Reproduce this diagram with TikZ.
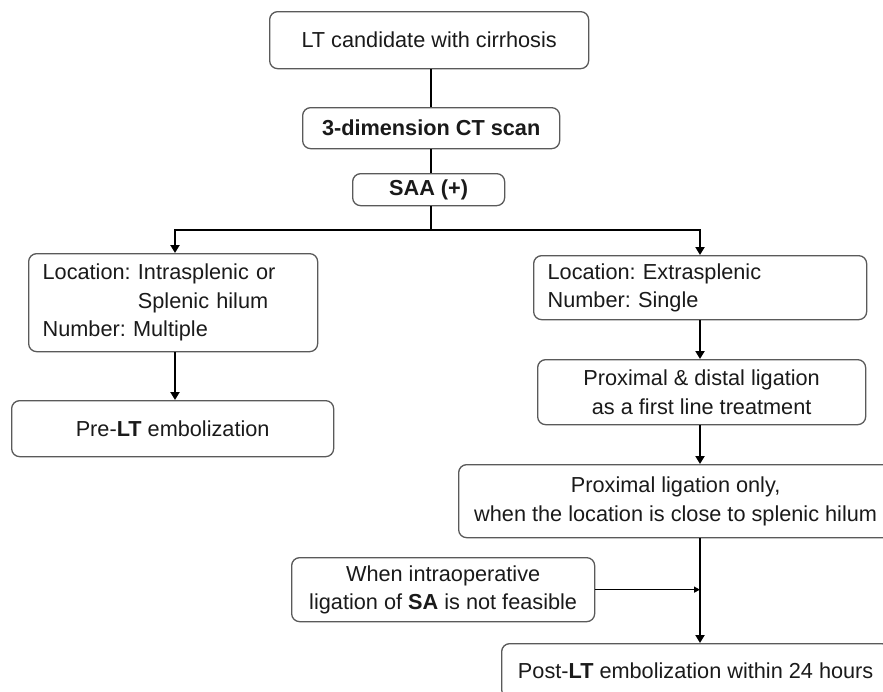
\documentclass[tikz,border=0pt]{standalone}
\usepackage{fontspec}
\setmainfont{Liberation Sans}
\usetikzlibrary{arrows.meta}
\definecolor{boxline}{HTML}{5A5A5A}
\definecolor{txt}{HTML}{1A1A1A}
\frenchspacing
\begin{document}
\begin{tikzpicture}[x=1pt,y=-1pt,
 box/.style={draw=boxline, line width=1.3pt, rounded corners=8pt, anchor=north west, inner sep=0pt, align=center, text=txt, font=\fontsize{21.7}{28.5}\selectfont},
 conn/.style={line width=2.9pt, black},
 arr/.style={conn, -{Triangle[length=8pt,width=9pt]}},
 thinarr/.style={line width=1.4pt, black, -{Triangle[length=6pt,width=6pt]}}]
\useasboundingbox[fill=white] (0,0) rectangle (883,691);
\node[box, minimum width=319pt, minimum height=57pt] (cand) at (269,11) {LT candidate with cirrhosis};
\node[box, minimum width=257pt, minimum height=41pt] (ct) at (302,107) {\textbf{3-dimension CT scan}};
\node[box, minimum width=152pt, minimum height=32pt] (saa) at (352,173) {\textbf{SAA (+)}};
\node[box, align=left, text width=261pt, inner xsep=14pt, minimum height=98pt] (lbox) at (28,253) {Location: Intrasplenic or\\\phantom{Location: }Splenic hilum\\Number: Multiple};
\node[box, minimum width=322pt, minimum height=56pt] (pre) at (11,400) {Pre-\textbf{LT} embolization};
\node[box, align=left, text width=305pt, inner xsep=14pt, minimum height=64pt] (rbox) at (533,255) {Location: Extrasplenic\\Number: Single};
\node[box, minimum width=328pt, minimum height=65pt] (pd) at (537,359) {Proximal \& distal ligation\\as a first line treatment};
\node[box, minimum width=434pt, minimum height=73pt] (po) at (458,464) {Proximal ligation only,\\when the location is close to splenic hilum};
\node[box, minimum width=303pt, minimum height=64pt] (when) at (291,557) {When intraoperative\\ligation of \textbf{SA} is not feasible};
\node[box, minimum width=388pt, minimum height=54pt] (post) at (501,643) {Post-\textbf{LT} embolization within 24 hours};
\coordinate (spine) at (431,0);
\coordinate (barL) at (175,230);
\coordinate (barM) at (431,230);
\coordinate (barR) at (700,230);
\draw[conn] (cand.south -| spine) -- (ct.north -| spine);
\draw[conn] (ct.south -| spine) -- (saa.north -| spine);
\draw[conn] (saa.south -| spine) -- (barM);
\draw[arr] (barM) -- (barL) -- (barL |- lbox.north);
\draw[arr] (barM) -- (barR) -- (barR |- rbox.north);
\draw[arr] (lbox.south -| barL) -- (pre.north -| barL);
\draw[arr] (rbox.south -| barR) -- (pd.north -| barR);
\draw[arr] (pd.south -| barR) -- (po.north -| barR);
\draw[arr] (po.south -| barR) -- (post.north -| barR);
\draw[thinarr] (when.east) -- (when.east -| barR);
\end{tikzpicture}
\end{document}
